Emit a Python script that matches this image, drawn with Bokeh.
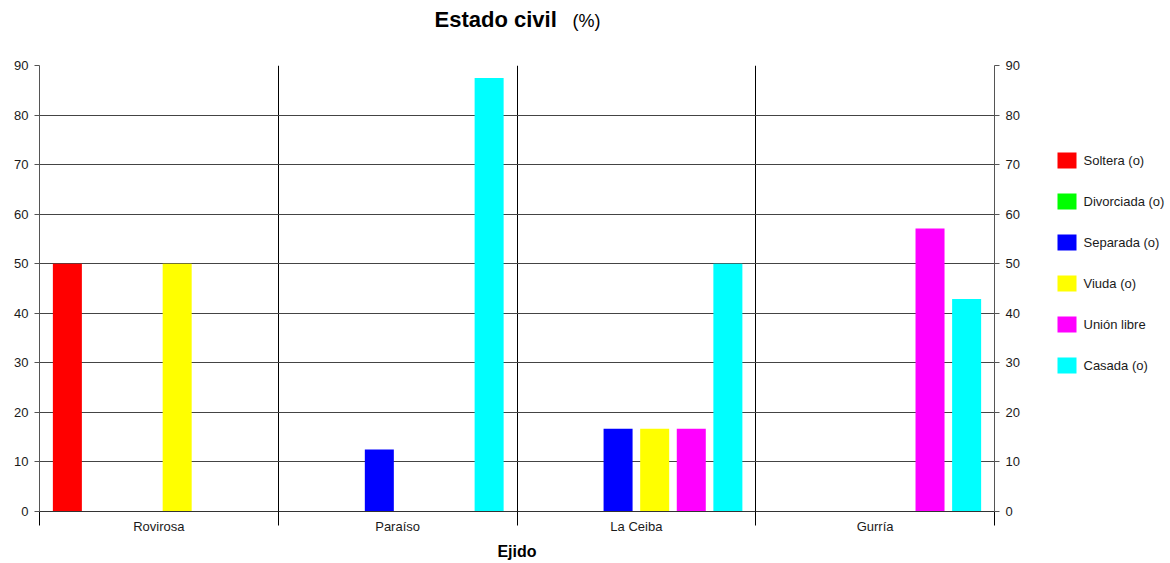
from bokeh.plotting import figure
from bokeh.models import LinearAxis, FixedTicker, Range1d, ColumnDataSource
from bokeh.layouts import column, row
from bokeh.core.properties import value
from bokeh.embed import file_html
from bokeh.resources import INLINE

# Data: marital status (%) by ejido
ejidos = ["Rovirosa", "Paraíso", "La Ceiba", "Gurría"]
series_names = ["Soltera (o)", "Divorciada (o)", "Separada (o)", "Viuda (o)",
                "Unión libre", "Casada (o)"]
soltera = [50.0, 0.0, 0.0, 0.0]
divorciada = [0.0, 0.0, 0.0, 0.0]
separada = [0.0, 12.5, 16.7, 0.0]
viuda = [50.0, 0.0, 16.7, 0.0]
union_libre = [0.0, 0.0, 16.7, 57.1]
casada = [0.0, 87.5, 50.0, 42.9]
y_ticks = [0, 10, 20, 30, 40, 50, 60, 70, 80, 90]

series_values = [soltera, divorciada, separada, viuda, union_libre, casada]
colors = ["#FF0000", "#00FF00", "#0000FF", "#FFFF00", "#FF00FF", "#00FFFF"]

FONT = "Liberation Sans"
TXT = "#1a1a1a"
W = 1170
H = 563
TITLE_H = 40
MAIN_W = 1034
MAIN_H = H - TITLE_H
LEG_W = W - MAIN_W


def bare(fig):
    fig.outline_line_color = None
    fig.xgrid.visible = False
    fig.ygrid.visible = False
    fig.background_fill_color = "white"
    fig.border_fill_color = "white"


# Title strip: bold heading followed by a smaller "(%)"
head = figure(frame_width=W, frame_height=TITLE_H, x_range=Range1d(0, W),
              y_range=Range1d(0, TITLE_H), min_border=0,
              output_backend="svg", toolbar_location=None,
              x_axis_location=None, y_axis_location=None)
bare(head)
head.text(x=[434], y=[TITLE_H - 19], text=["Estado civil"],
          text_font=value(FONT), text_font_size="22px",
          text_font_style="bold", text_color="#000000",
          text_baseline="alphabetic", text_align="left")
head.text(x=[572], y=[TITLE_H - 20], text=["(%)"],
          text_font=value(FONT), text_font_size="18px",
          text_color="#000000", text_baseline="alphabetic", text_align="left")

# Main chart
p = figure(frame_width=955, frame_height=446,
           min_border_left=39, min_border_right=MAIN_W - 39 - 955,
           min_border_top=65 - TITLE_H, min_border_bottom=MAIN_H - 446 - (65 - TITLE_H),
           x_range=Range1d(0, 4), y_range=Range1d(0, 90),
           output_backend="svg", toolbar_location=None,
           x_axis_location=None, y_axis_location=None)
p.outline_line_color = None
p.background_fill_color = "white"
p.border_fill_color = "white"

step = 0.1533
bar_w = 0.1215
for k, (vals, col) in enumerate(zip(series_values, colors)):
    xs = [g + 0.5 + (k - 2.5) * step for g in range(len(ejidos))]
    src = ColumnDataSource(dict(x=xs, top=vals))
    p.vbar(x="x", top="top", width=bar_w, bottom=0, source=src,
           fill_color=col, line_color=None)


def style_axis(ax):
    ax.axis_line_color = "#555555"
    ax.major_tick_line_color = "#555555"
    ax.minor_tick_line_color = "#000000"
    ax.major_label_text_font = FONT
    ax.major_label_text_font_size = "13px"
    ax.major_label_text_color = TXT


# Left and right value axes
left = LinearAxis(ticker=FixedTicker(ticks=y_ticks))
right = LinearAxis(ticker=FixedTicker(ticks=y_ticks))
for ax in (left, right):
    style_axis(ax)
    ax.major_tick_out = 5
    ax.major_tick_in = 0
    ax.minor_tick_out = 0
    ax.minor_tick_in = 0
    ax.major_label_standoff = 6
p.add_layout(left, "left")
p.add_layout(right, "right")

# Category axis: labels centred on groups, long ticks at group boundaries
bottom = LinearAxis(ticker=FixedTicker(ticks=[0.5, 1.5, 2.5, 3.5],
                                       minor_ticks=[0, 1, 2, 3, 4]))
style_axis(bottom)
bottom.axis_line_color = "#333333"
bottom.major_tick_out = 0
bottom.major_tick_in = 0
bottom.minor_tick_out = 14
bottom.minor_tick_in = 0
bottom.major_label_standoff = -7
bottom.major_label_overrides = {0.5: ejidos[0], 1.5: ejidos[1],
                                2.5: ejidos[2], 3.5: ejidos[3]}
bottom.axis_label = "Ejido"
bottom.axis_label_text_font = FONT
bottom.axis_label_text_font_style = "bold"
bottom.axis_label_text_font_size = "16px"
bottom.axis_label_text_color = "#000000"
bottom.axis_label_standoff = 6
p.add_layout(bottom, "below")

# Grid lines
p.ygrid.ticker = FixedTicker(ticks=y_ticks[1:])
p.ygrid.grid_line_color = "#444444"
p.ygrid.grid_line_width = 1
p.xgrid.ticker = FixedTicker(ticks=[1, 2, 3])
p.xgrid.grid_line_color = "#000000"
p.xgrid.grid_line_width = 1

# Legend strip on the right (y runs downward, in pixels)
leg = figure(frame_width=LEG_W, frame_height=MAIN_H, x_range=Range1d(0, LEG_W),
             y_range=Range1d(MAIN_H, 0), min_border=0,
             output_backend="svg", toolbar_location=None,
             x_axis_location=None, y_axis_location=None)
bare(leg)
row_y = [95 + 41 * i for i in range(len(series_names))]
leg_src = ColumnDataSource(dict(y=row_y, color=colors, label=series_names))
leg.rect(x=32.5, y="y", width=19, height=16, source=leg_src,
         fill_color="color", line_color=None)
leg.text(x=49, y="y", text="label", source=leg_src,
         text_font=value(FONT), text_font_size="13px", text_color=TXT,
         text_baseline="middle", text_align="left")

layout = column(head, row(p, leg, spacing=0), spacing=0)
open("out.html", "w").write(file_html(layout, INLINE))
